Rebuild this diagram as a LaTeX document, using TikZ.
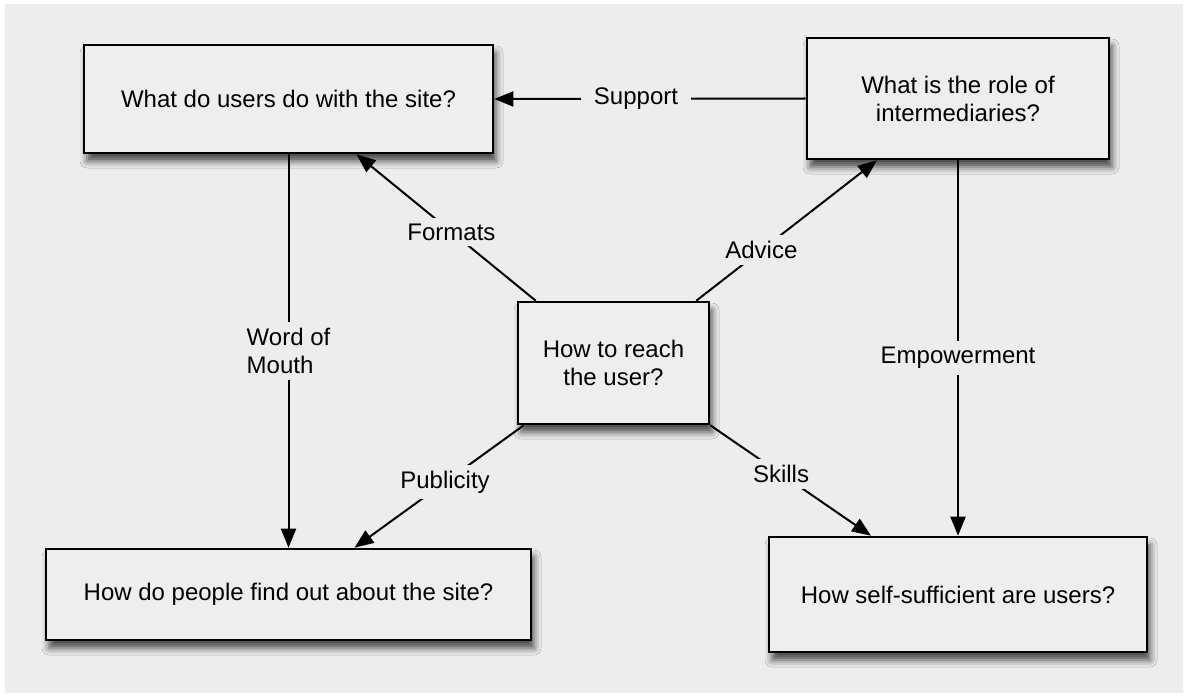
\documentclass[tikz,border=0pt]{standalone}
\usepackage{fontspec}
\setmainfont{Liberation Sans}
\usepackage{tikz}
\usetikzlibrary{arrows.meta}
\usetikzlibrary{shadows.blur}
\definecolor{fond}{HTML}{EDEDED}
\definecolor{boite}{HTML}{EEEEEE}

\begin{document}
\begin{tikzpicture}[x=0.5pt,y=-0.5pt,%
    box/.style={draw,line width=1.3pt,fill=boite,align=center,inner sep=0pt,%
      blur shadow={shadow xshift=1.5pt,shadow yshift=-4pt,shadow blur radius=3.5pt,shadow opacity=70}},%
    lbl/.style={fill=fond,inner sep=3pt,align=left},%
    conn/.style={line width=1pt,-{Triangle[length=9.5pt,width=7.5pt]}}]%
        %\draw[step=50,color=gray,very thin] (0,0) grid (1186,695);%%
        \useasboundingbox (0,0) rectangle (1186,695);%%
        \fill[fond] (5,4) rectangle (1183,693);%%
        \begin{scope}[font=\fontsize{12}{14}\selectfont]
        \node[box,minimum width=204.5pt,minimum height=54pt] (use) at (288.5,99)  {What do users do with the site?}; %%
        \node[box,minimum width=151pt,minimum height=60.5pt] (role) at (958,98.5)  {What is the role of\\intermediaries?}; %%
        \node[box,minimum width=95.5pt,minimum height=61pt] (reach) at (613.5,363)  {How to reach\\the user?}; %%
        \node[box,minimum width=242.5pt,minimum height=45.5pt] (find) at (288.5,594.5)  {How do people find out about the site?}; %%
        \node[box,minimum width=189pt,minimum height=57.5pt] (self) at (958,594.5)  {How self-sufficient are users?}; %%
        \draw[conn] (role.west)--node[lbl,pos=0.545,inner xsep=6.5pt] {Support} (use.east); %%
        \draw[conn] ([xshift=9.5pt]reach.north west)--node[lbl,pos=0.47] {Formats} ([xshift=34pt]use.south); %%
        \draw[conn] ([xshift=-7pt]reach.north east)--node[lbl,pos=0.36] {Advice} ([xshift=-40.5pt]role.south); %%
        \draw[conn] ([xshift=3.5pt]reach.south west)--node[lbl,pos=0.465] {Publicity} ([xshift=33pt]find.north); %%
        \draw[conn] (reach.south east)--node[lbl,pos=0.44] {Skills} ([xshift=-43.5pt]self.north); %%
        \draw[conn] (use.south)--node[lbl,pos=0.5] {Word of\\Mouth} (find.north); %%
        \draw[conn] (role.south)--node[lbl,pos=0.527] {Empowerment} (self.north); %%
        \end{scope}
        \end{tikzpicture}
\end{document}
